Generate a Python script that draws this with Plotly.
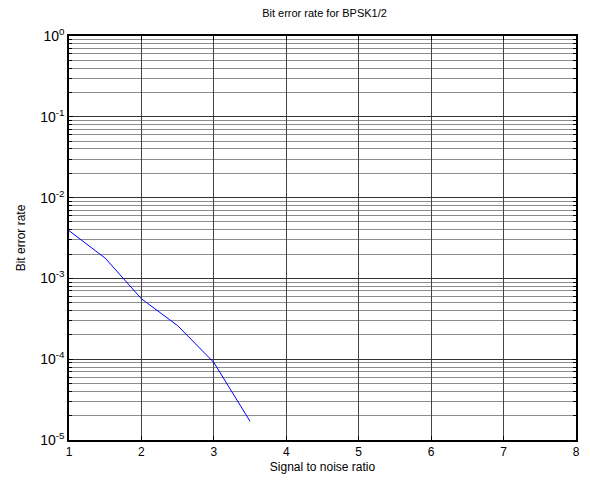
import plotly.graph_objects as go

snr = [1.0, 1.5, 2.0, 2.5, 3.0, 3.5]
ber = [3.9e-3, 1.78e-3, 5.6e-4, 2.6e-4, 9.1e-5, 1.7e-5]

x_ticks = [1, 2, 3, 4, 5, 6, 7, 8]
y_major = [1e-5, 1e-4, 1e-3, 1e-2, 1e-1, 1e0]
y_labels = ["10<sup>-5</sup>", "10<sup>-4</sup>", "10<sup>-3</sup>", "10<sup>-2</sup>",
            "10<sup>-1</sup>", "10<sup>0</sup>"]
y_minor = [m * d for d in [1e-5, 1e-4, 1e-3, 1e-2, 1e-1] for m in range(2, 10)]

font = "Liberation Sans, Arial, sans-serif"

fig = go.Figure()
fig.add_trace(go.Scatter(x=snr, y=ber, mode="lines",
                         line=dict(color="#0000ff", width=1), showlegend=False))

fig.update_layout(
    width=590, height=482,
    margin=dict(l=69, r=10, t=36, b=42),
    paper_bgcolor="white", plot_bgcolor="white",
    font=dict(family=font, size=12, color="black"),
    title=dict(text="Bit error rate for BPSK1/2", x=(69 + 580) / 2 / 590, xanchor="center",
               y=1 - 13 / 482, yanchor="middle", font=dict(size=11, family=font)),
)
fig.update_xaxes(
    range=[1, 8], tickvals=x_ticks, ticks="inside", ticklen=4, tickcolor="black",
    showline=True, linecolor="black", linewidth=1.5, mirror="allticks",
    showgrid=True, gridcolor="#444444", gridwidth=1, zeroline=False,
    tickfont=dict(size=12), title=dict(text="Signal to noise ratio", font=dict(size=12), standoff=4),
)
fig.update_yaxes(
    type="log", range=[-5, 0], tickvals=y_major, ticktext=y_labels,
    ticks="inside", ticklen=4, tickcolor="black",
    showline=True, linecolor="black", linewidth=1.5, mirror="allticks",
    showgrid=True, gridcolor="#333333", gridwidth=1, zeroline=False,
    minor=dict(tickvals=y_minor, ticks="inside", ticklen=3, tickcolor="black",
               showgrid=True, gridcolor="#8c8c8c", gridwidth=1),
    tickfont=dict(size=14), title=dict(text="Bit error rate", font=dict(size=12), standoff=12),
)

fig.write_html("out.html")
